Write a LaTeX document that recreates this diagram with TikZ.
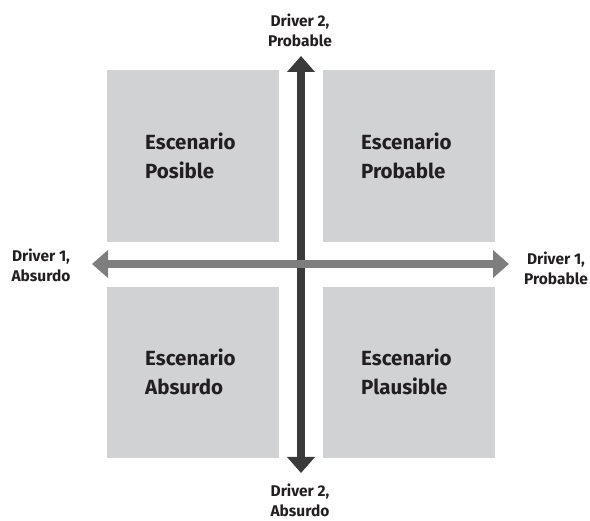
\documentclass[tikz,border=0pt]{standalone}
\usepackage{fontspec}
\setmainfont{Fira Sans}
\usetikzlibrary{arrows.meta}
\definecolor{boxgray}{HTML}{D1D2D4}
\definecolor{axisdark}{HTML}{3A3A3A}
\definecolor{axislight}{HTML}{7E7E7E}
\definecolor{textdark}{HTML}{231F20}
\tikzset{
  quad/.style={fill=boxgray, draw=none},
  quadtext/.style={font=\bfseries\fontsize{20.5}{29}\selectfont, text=textdark, align=left, anchor=west, inner sep=0pt},
  axislabel/.style={font=\bfseries\fontsize{15.5}{20}\selectfont, text=textdark, align=center},
  axisarrow/.style={line width=8pt, {Triangle[width=27pt,length=16pt]}-{Triangle[width=27pt,length=16pt]}}
}
\begin{document}
\begin{tikzpicture}[x=1pt, y=-1pt]
  \useasboundingbox (0,0) rectangle (590,521);
  % four scenario squares
  \fill[quad] (107,70) rectangle (279,242);
  \fill[quad] (323,70) rectangle (495,242);
  \fill[quad] (107,287) rectangle (279,458);
  \fill[quad] (323,287) rectangle (495,458);
  \node[quadtext] (pos) at (145,156) {Escenario\\Posible};
  \node[quadtext] (prob) at (361,156) {Escenario\\Probable};
  \node[quadtext] (abs) at (145,372) {Escenario\\Absurdo};
  \node[quadtext] (plau) at (361,372) {Escenario\\Plausible};
  % axis end points
  \coordinate (top) at (301,56);
  \coordinate (bottom) at (301,473);
  \coordinate (left) at (92,264);
  \coordinate (right) at (509,264);
  % axes: driver 2 (vertical) under driver 1 (horizontal)
  \draw[axisarrow, draw=axisdark, fill=axisdark] (bottom) -- (top);
  \draw[axisarrow, draw=axislight, fill=axislight] (left) -- (right);
  % axis labels
  \node[axislabel] (d2p) at (300,30) {Driver 2,\\Probable};
  \node[axislabel] (d2a) at (300,500) {Driver 2,\\Absurdo};
  \node[axislabel] (d1a) at (41,265) {Driver 1,\\Absurdo};
  \node[axislabel] (d1p) at (556,268) {Driver 1,\\Probable};
\end{tikzpicture}
\end{document}
